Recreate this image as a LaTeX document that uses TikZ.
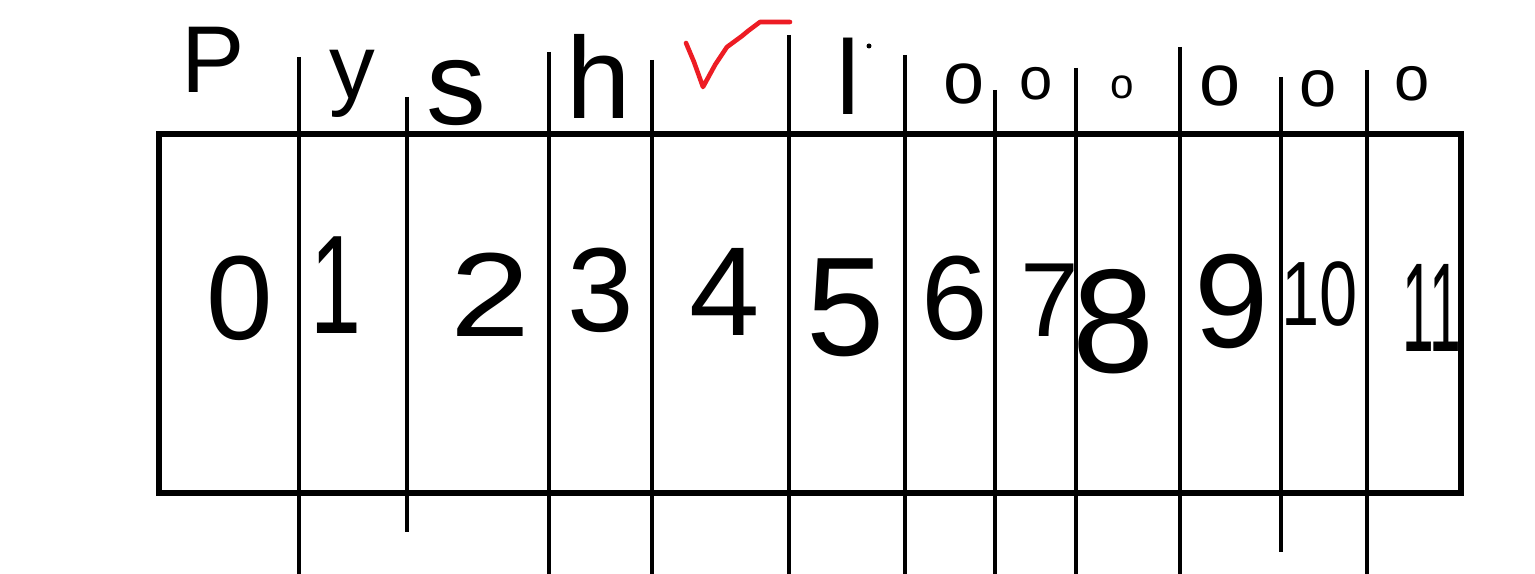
\documentclass[tikz,border=0pt]{standalone}
\usepackage{fontspec}
\setmainfont{Liberation Sans}
\definecolor{inkred}{RGB}{237,28,36}
\begin{document}
\begin{tikzpicture}[x=0.01cm,y=-0.01cm,
  ink/.style={line width=1.15pt,black},
  frame/.style={line width=1.45pt,black},
  fs/.style={font=\fontsize{#1}{#1}\selectfont,inner sep=0pt}]
\useasboundingbox[fill=white] (0,0) rectangle (1535,574);
% frame
\draw[frame] (159,134) rectangle (1461,493);
% dividers
\foreach \x/\t/\b in {299/57/574, 407/97/532, 549/52/574, 652/60/574, 789/35/574,
  905/55/574, 995/90/574, 1076/68/574, 1180/47/574, 1281/77/552, 1367/70/574}
  \draw[ink] (\x,\t) -- (\x,\b);
% top letters
\node[fs=27] (tP) at (213,60) {P};
\node[fs=26] (ty) at (352,84) {y};
\node[fs=34] (ts) at (456,93) {s};
\node[fs=33] (th) at (599,76) {h};
\draw[line width=1.3pt,inkred,line join=round,line cap=round]
  (686,43) -- (694,62) -- (703,87) -- (715,65) -- (727,47) -- (742,36) -- (748,31) -- (760,22) -- (790,22);
\node[fs=30] (tl) at (848,76) {l};
\fill (869,46) circle (2.5);
\node[fs=21] (o1) at (964,84) {o};
\node[fs=17] (o2) at (1036,84) {o};
\node[fs=12] (o3) at (1122,87) {o};
\node[fs=21] (o4) at (1220,86) {o};
\node[fs=19] (o5) at (1318,89) {o};
\node[fs=18] (o6) at (1412,84) {o};
% digits
\node[fs=34] (d0) at (240,298) {0};
\node[fs=40] (d1) at (336,285) {\scalebox{0.65}[1]{1}};
\node[fs=34] (d2) at (490,295) {\scalebox{1.2}[1]{2}};
\node[fs=34] (d3) at (601,290) {3};
\node[fs=36] (d4) at (725,292) {4};
\node[fs=40] (d5) at (846,308) {5};
\node[fs=34] (d6) at (955,298) {6};
\node[fs=30] (d7) at (1050,300) {7};
\node[fs=42] (d8) at (1114,322) {8};
\node[fs=38] (d9) at (1232,302) {9};
\node[fs=26] (d10) at (1320,294) {\scalebox{0.75}[1]{10}};
\node[fs=36] (d11) at (1432,308) {\scalebox{0.45}[1]{11}};
\end{tikzpicture}
\end{document}
